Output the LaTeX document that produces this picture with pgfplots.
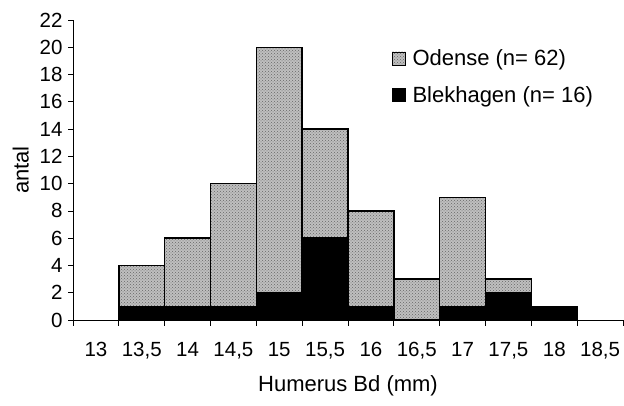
\documentclass[border=0pt]{standalone}
\usepackage{pgfplots}
\pgfplotsset{compat=1.18}
\usepackage{fontspec}
\setmainfont{Liberation Sans}
\usetikzlibrary{patterns}
\begin{document}
\begin{tikzpicture}
\useasboundingbox (-73pt,-86pt) rectangle (551pt,320pt);
\begin{axis}[
  name=ax, at={(0,0)}, anchor=south west,
  scale only axis, width=550pt, height=300pt,
  ybar stacked, bar width=45.833pt,
  xmin=-0.5, xmax=11.5, ymin=0, ymax=22,
  axis lines*=left,
  axis line style={line width=0.8pt},
  xtick={0,...,11},
  xticklabels={13,{13,5},14,{14,5},15,{15,5},16,{16,5},17,{17,5},18,{18,5}},
  major x tick style={draw=none},
  minor xtick={-0.5,0.5,...,11.5},
  minor tick length=6pt,
  minor x tick style={line width=0.8pt, black},
  ytick={0,2,...,22},
  major tick length=5pt,
  y tick style={line width=0.8pt, black},
  tick align=outside,
  /pgf/number format/assume math mode=true,
  tick label style={font=\fontsize{20.5}{22}\selectfont},
  xticklabel style={yshift=-14pt},
  yticklabel style={xshift=-2pt},
  xlabel={Humerus Bd (mm)},
  ylabel={antal},
  label style={font=\fontsize{22}{24}\selectfont},
  xlabel style={yshift=-9pt},
  ylabel style={yshift=4pt},
  legend cell align=left,
  legend style={draw=none, fill=none, at={(0.574,0.915)}, anchor=north west,
    font=\fontsize{22}{24}\selectfont, row sep=15pt,
    /tikz/every odd column/.append style={column sep=5pt}},
  legend image code/.code={\draw[#1, line width=0.6pt] (0pt,-6.5pt) rectangle (13pt,6.5pt);},
  reverse legend,
]
\addplot+[draw=black, line width=1.4pt, fill=black] coordinates {
  (1,1) (2,1) (3,1) (4,2) (5,6) (6,1) (7,0) (8,1) (9,2) (10,1)};
\addlegendentry{Blekhagen (n= 16)}
\addplot+[draw=black, line width=1.4pt, fill=black!25,
  postaction={pattern=crosshatch dots, pattern color=black!60}] coordinates {
  (1,3) (2,5) (3,9) (4,18) (5,8) (6,7) (7,3) (8,8) (9,1) (10,0)};
\addlegendentry{Odense (n= 62)}
\end{axis}
\end{tikzpicture}
\end{document}
